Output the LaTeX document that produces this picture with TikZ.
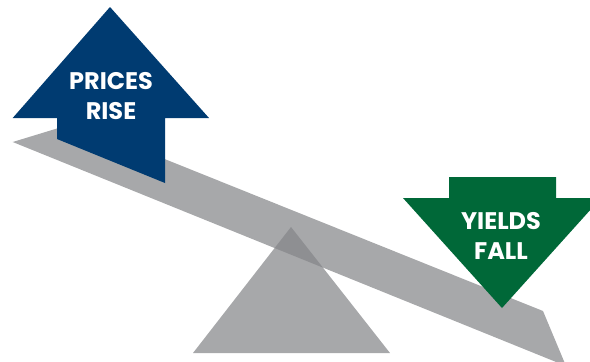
\documentclass[tikz,border=0pt]{standalone}
\usepackage{fontspec}
\setsansfont{Poppins}
\definecolor{beamgray}{RGB}{167,168,170}
\definecolor{overlapgray}{RGB}{142,143,146}
\definecolor{riseblue}{RGB}{0,59,113}
\definecolor{fallgreen}{RGB}{0,104,56}
\begin{document}
\begin{tikzpicture}[x=1pt,y=-1pt]

\tikzset{sign/.style = {text=white, align=center, font=\sffamily\bfseries\fontsize{24}{30}\selectfont}}
\clip (0,0) rectangle (590,362);
%seesaw
\fill[beamgray] (12.7,142) -- (75,123) -- (543,311) -- (566,366) -- cycle;
\fill[beamgray] (291,227) -- (390,353) -- (193,353) -- cycle;
\begin{scope}
\clip (12.7,142) -- (75,123) -- (543,311) -- (566,366) -- cycle;
\fill[overlapgray] (291,227) -- (390,353) -- (193,353) -- cycle;
\end{scope}
%arrows
\fill[riseblue] (110,7) -- (209,118) -- (165,118) -- (165,183) -- (57,139) -- (57,118) -- (12.7,118) -- cycle;
\fill[fallgreen] (449,177) -- (556,177) -- (556,198) -- (601,198) -- (502,308) -- (403,198) -- (449,198) -- cycle;
%labels
\node[sign] (rise) at (111,96) {PRICES\\RISE};
\node[sign] (fall) at (501,236) {YIELDS\\FALL};

\end{tikzpicture}
\end{document}
